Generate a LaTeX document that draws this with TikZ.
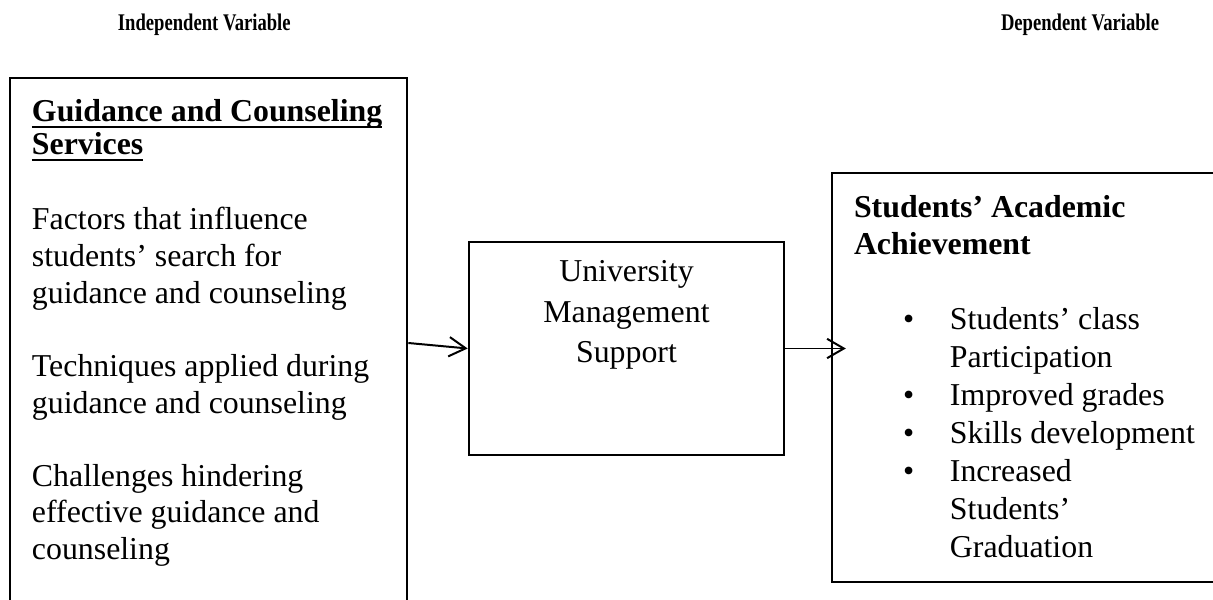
\documentclass[tikz,border=0pt]{standalone}
\usepackage{graphicx}
\usepackage{fontspec}
\setmainfont{Liberation Serif}
\usetikzlibrary{arrows.meta, positioning, fit}

\newcommand{\ulbox}[1]{\setbox0\hbox{#1}\rlap{\rule[-2.3pt]{\wd0}{0.9pt}}\box0}

\begin{document}
\begin{tikzpicture}
	[x=0.377pt, y=-0.377pt, ->, >={Straight Barb[length=6.3pt,width=7.3pt]}, line width=0.75pt,
	box/.style={draw, -, inner sep=0pt, line width=1pt},
	head/.style={inner sep=0pt, anchor=base west, font=\fontsize{9}{10}\selectfont\bfseries},
	body/.style={inner sep=0pt, anchor=base west, font=\fontsize{12}{13.8}\selectfont}]
	\clip (0,0) rectangle (1213,600);
	% headings
	\node (iv) [head] at (117,31) {\scalebox{0.78}[1]{Independent Variable}};
	\node (dv) [head] at (1000,31) {\scalebox{0.78}[1]{Dependent Variable}};
	% boxes
	\node (gcs) [box, fit={(10,78) (407,608)}] {};
	\node (ums) [box, fit={(469,242) (784,455)}] {};
	\node (saa) [box, fit={(832,173) (1230,582)}] {};
	% left box
	\node (gcs title) [body, font=\fontsize{12}{12.4}\selectfont\bfseries] at (31,122)
	{\begin{tabular}[t]{@{}l@{}}\ulbox{Guidance and Counseling}\\ \ulbox{Services}\end{tabular}};
	\node (gcs items) [body] at (31,230)
	{\begin{tabular}[t]{@{}l@{}}
	Factors that influence\\ students' search for\\ guidance and counseling\\ \\
	Techniques applied during\\ guidance and counseling\\ \\
	Challenges hindering\\ effective guidance and\\ counseling
	\end{tabular}};
	% middle box
	\node (ums text) [body, anchor=base, font=\fontsize{12}{15.1}\selectfont] at (626.5,282)
	{\begin{tabular}[t]{@{}c@{}}University\\ Management\\ Support\end{tabular}};
	% right box
	\node (saa title) [body, font=\fontsize{12}{13.9}\selectfont\bfseries] at (853,218)
	{\begin{tabular}[t]{@{}l@{}}Students' Academic\\ Achievement\end{tabular}};
	\node (saa items) [body, font=\fontsize{12}{14.3}\selectfont] at (902,330)
	{\begin{tabular}[t]{@{}p{17.7pt}@{}l@{}}
	\textbullet & Students' class\\ & Participation\\
	\textbullet & Improved grades\\
	\textbullet & Skills development\\
	\textbullet & Increased\\ & Students'\\ & Graduation
	\end{tabular}};
	% arrows
	\draw (gcs.east) -- (ums.west);
	\draw (ums.east) -- ([xshift=5.7pt]ums.east -| saa.west);
\end{tikzpicture}
\end{document}
